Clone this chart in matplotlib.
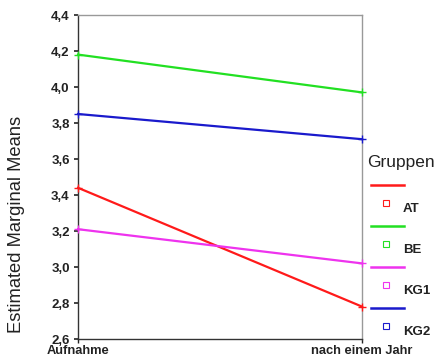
import matplotlib
matplotlib.use("Agg")
import matplotlib.pyplot as plt
from matplotlib.lines import Line2D

plt.rcParams['font.family'] = ['Liberation Sans', 'DejaVu Sans']

# data
zeitpunkte = ["Aufnahme", "nach einem Jahr"]
gruppen = ["AT", "BE", "KG1", "KG2"]
werte_at = [3.44, 2.78]
werte_be = [4.18, 3.97]
werte_kg1 = [3.21, 3.02]
werte_kg2 = [3.85, 3.71]
yticks = [2.6, 2.8, 3.0, 3.2, 3.4, 3.6, 3.8, 4.0, 4.2, 4.4]

farben = ["#ff1a1a", "#22e022", "#ee33ee", "#1a1acc"]
serien = [werte_at, werte_be, werte_kg1, werte_kg2]

fig = plt.figure(figsize=(4.43, 3.58), dpi=100)
ax = fig.add_axes([78/443, 1-339/358, (362-78)/443, (339-15)/358])

x = list(range(len(zeitpunkte)))
for werte, c in zip(serien, farben):
    ax.plot(x, werte, color=c, lw=1.6, marker="+", ms=6, mew=1.0,
            clip_on=False, zorder=4)

ax.set_xlim(0, 1)
ax.set_ylim(2.6, 4.4)
ax.set_xticks(x)
ax.set_xticklabels(zeitpunkte, fontsize=9.3, fontweight="bold", color="#222222")
ax.set_yticks(yticks)
ax.set_yticklabels([f"{v:.1f}".replace(".", ",") for v in yticks],
                   fontsize=9.5, fontweight="bold", color="#222222")
ax.tick_params(axis="y", length=3, width=1.2, color="#222222", pad=3)
ax.tick_params(axis="x", length=3, width=1.0, color="#222222", pad=1.5)
for side in ["top", "right"]:
    ax.spines[side].set_color("#999999")
    ax.spines[side].set_linewidth(1.0)
for side in ["left", "bottom"]:
    ax.spines[side].set_color("#333333")
    ax.spines[side].set_linewidth(1.0)

ax.set_ylabel("Estimated Marginal Means", fontsize=13.2, color="#222222")
ax.yaxis.set_label_coords(-0.187, 0.355)

# legend, drawn like the SPSS one
fig.text(367/443, 1-162/358, "Gruppen", fontsize=12.5, color="#222222", va="center", ha="left")
for i, (g, c) in enumerate(zip(gruppen, farben)):
    y_line = 185 + i*41
    y_sq = 203 + i*41
    fig.add_artist(Line2D([371/443, 404/443], [1-y_line/358, 1-y_line/358],
                          color=c, lw=1.8, transform=fig.transFigure))
    fig.add_artist(Line2D([386/443], [1-y_sq/358], marker="s", ms=4.5, mfc="none",
                          mec=c, mew=0.8, ls="none", transform=fig.transFigure))
    fig.text(403/443, 1-(y_sq+6)/358, g, fontsize=9.5, fontweight="bold",
             color="#222222", va="center", ha="left")

fig.savefig("out.png", dpi=100)
